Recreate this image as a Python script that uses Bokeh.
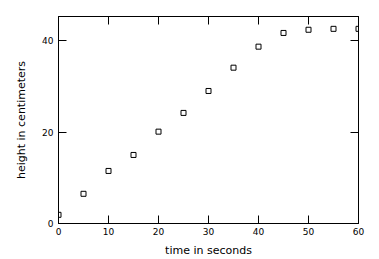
from bokeh.plotting import figure
from bokeh.models import LinearAxis, FixedTicker, Range1d
from bokeh.embed import file_html
from bokeh.resources import INLINE

time_s = [0, 5, 10, 15, 20, 25, 30, 35, 40, 45, 50, 55, 60]
height_cm = [1.9, 6.5, 11.5, 15.0, 20.1, 24.2, 29.0, 34.1, 38.7, 41.7, 42.4, 42.6, 42.6]
x_ticks = [0, 10, 20, 30, 40, 50, 60]
y_ticks = [0, 20, 40]

p = figure(width=379, height=259, output_backend="svg", toolbar_location=None,
           x_range=Range1d(0, 60), y_range=Range1d(0, 45.3),
           x_axis_location=None, y_axis_location=None,
           min_border_left=58, min_border_right=21, min_border_top=16, min_border_bottom=36)
p.grid.visible = False
p.outline_line_color = "black"
p.outline_line_width = 1
p.background_fill_color = "white"
p.border_fill_color = "white"

def style(ax, ticks, labels=True):
    ax.ticker = FixedTicker(ticks=ticks)
    ax.axis_line_color = "black"
    ax.axis_line_width = 1
    ax.major_tick_in = 8
    ax.major_tick_out = 0
    ax.minor_tick_line_color = None
    ax.major_tick_line_color = "black"
    ax.major_label_text_font = "DejaVu Sans"
    ax.major_label_text_font_size = "9px"
    ax.major_label_text_color = "black"
    ax.axis_label_text_font = "DejaVu Sans"
    ax.axis_label_text_font_size = "11px"
    ax.axis_label_text_font_style = "normal"
    ax.axis_label_text_color = "black"
    if not labels:
        ax.major_label_overrides = {t: "" for t in ticks}

bx = LinearAxis(axis_label="time in seconds")
style(bx, x_ticks)
bx.major_label_standoff = 4
bx.axis_label_standoff = 6
p.add_layout(bx, "below")

ly = LinearAxis(axis_label="height in centimeters")
style(ly, y_ticks)
ly.major_label_standoff = 5
ly.axis_label_standoff = 11
p.add_layout(ly, "left")

tx = LinearAxis()
style(tx, x_ticks, labels=False)
p.add_layout(tx, "above")

ry = LinearAxis()
style(ry, y_ticks, labels=False)
p.add_layout(ry, "right")

p.scatter(time_s, height_cm, marker="square", size=5, line_color="black",
          line_width=1, fill_color=None)

open("out.html", "w").write(file_html(p, INLINE))
